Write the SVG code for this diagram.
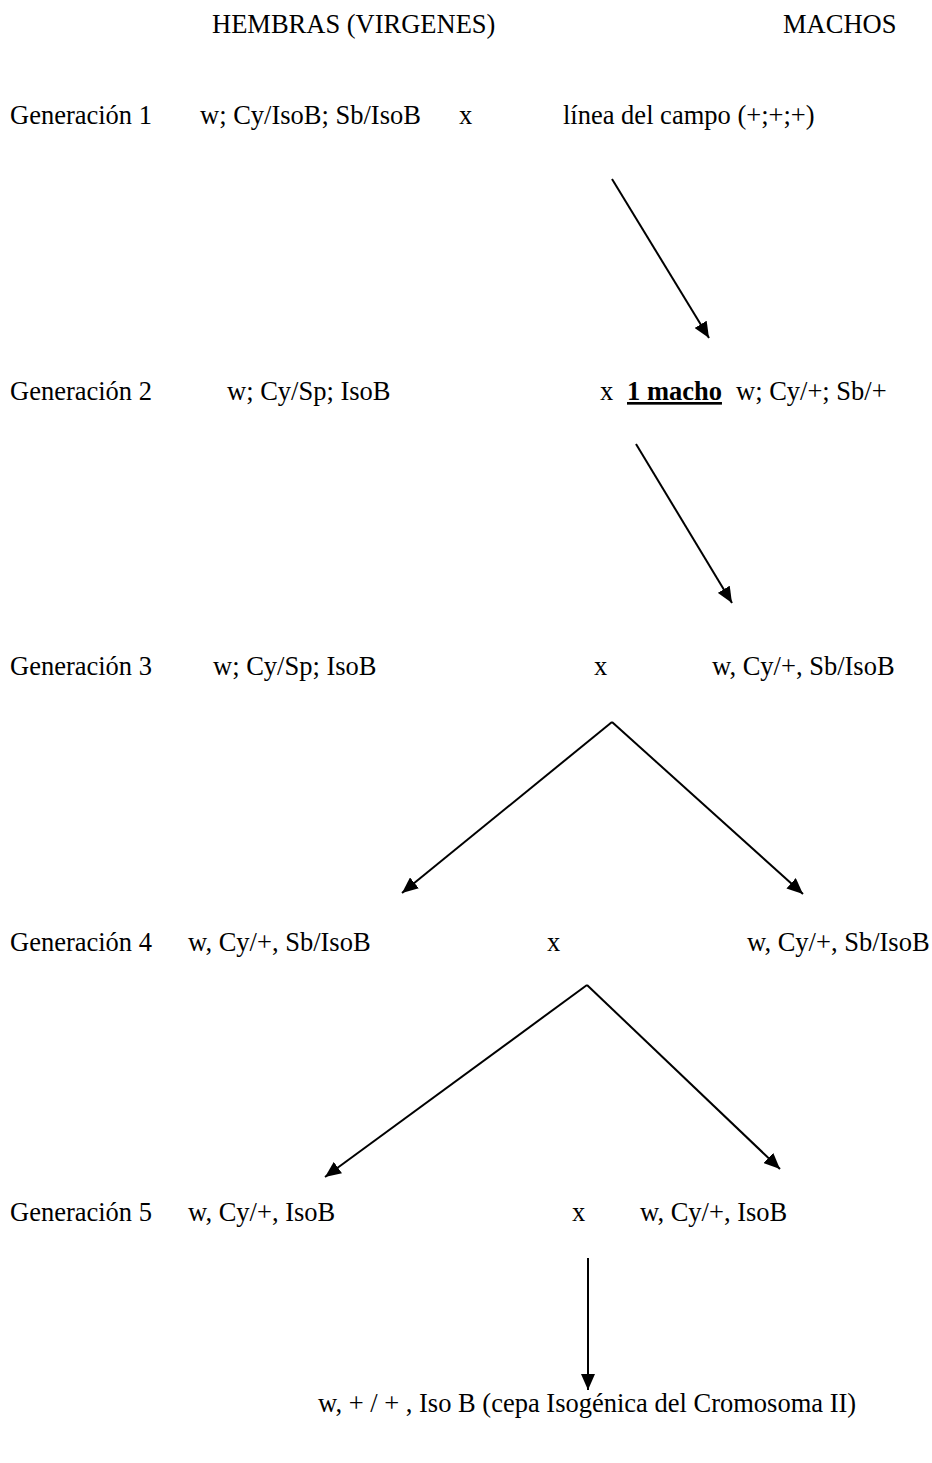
<svg xmlns="http://www.w3.org/2000/svg" width="932" height="1463" viewBox="0 0 932 1463">
<style>
text{font-family:"Liberation Serif","Times New Roman",serif;font-size:26.5px;fill:#000}
.b{font-weight:bold;text-decoration:underline}
.c{stroke:#000;stroke-width:2;fill:none}
</style>
<defs>
<marker id="ah" viewBox="0 0 16 14" refX="16" refY="7" markerWidth="16" markerHeight="14" markerUnits="userSpaceOnUse" orient="auto">
<path d="M0,0 L16,7 L0,14 z" fill="#000"/>
</marker>
</defs>
<rect width="932" height="1463" fill="#fff"/>
<g id="header">
<text x="212" y="33">HEMBRAS (VIRGENES)</text>
<text x="783" y="33">MACHOS</text>
</g>
<g id="gen1">
<text x="10" y="124">Generación 1</text>
<text x="200" y="124">w; Cy/IsoB; Sb/IsoB</text>
<text x="459" y="124">x</text>
<text x="563" y="124">línea del campo (+;+;+)</text>
</g>
<g id="gen2">
<text x="10" y="400">Generación 2</text>
<text x="227" y="400">w; Cy/Sp; IsoB</text>
<text x="600" y="400">x</text>
<text x="627" y="400" class="b">1 macho</text>
<text x="736" y="400">w; Cy/+; Sb/+</text>
</g>
<g id="gen3">
<text x="10" y="675">Generación 3</text>
<text x="213" y="675">w; Cy/Sp; IsoB</text>
<text x="594" y="675">x</text>
<text x="712" y="675">w, Cy/+, Sb/IsoB</text>
</g>
<g id="gen4">
<text x="10" y="951">Generación 4</text>
<text x="188" y="951">w, Cy/+, Sb/IsoB</text>
<text x="547" y="951">x</text>
<text x="747" y="951">w, Cy/+, Sb/IsoB</text>
</g>
<g id="gen5">
<text x="10" y="1221">Generación 5</text>
<text x="188" y="1221">w, Cy/+, IsoB</text>
<text x="572" y="1221">x</text>
<text x="640" y="1221">w, Cy/+, IsoB</text>
</g>
<g id="result">
<text x="318" y="1412">w, + / + , Iso B (cepa Isogénica del Cromosoma II)</text>
</g>
<g id="connectors">
<line class="c" x1="612" y1="179" x2="709" y2="338" marker-end="url(#ah)"/>
<line class="c" x1="636" y1="444" x2="732" y2="603" marker-end="url(#ah)"/>
<line class="c" x1="612" y1="722" x2="402" y2="893" marker-end="url(#ah)"/>
<line class="c" x1="612" y1="722" x2="803" y2="894" marker-end="url(#ah)"/>
<line class="c" x1="587" y1="985" x2="325" y2="1177" marker-end="url(#ah)"/>
<line class="c" x1="587" y1="985" x2="780" y2="1169" marker-end="url(#ah)"/>
<line class="c" x1="588" y1="1258" x2="588" y2="1390" marker-end="url(#ah)"/>
</g>
</svg>
